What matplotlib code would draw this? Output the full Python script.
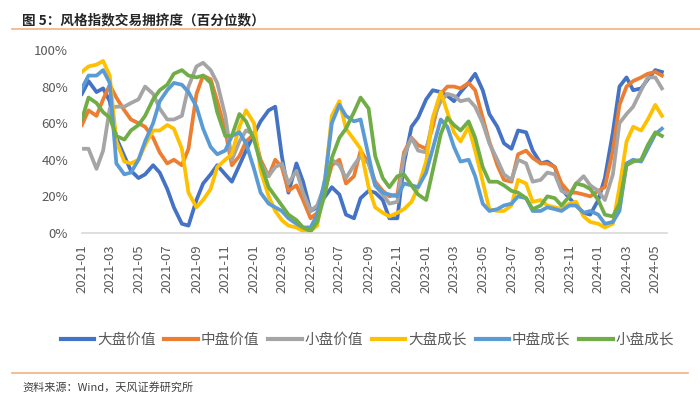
import numpy as np
import pandas as pd
import matplotlib
matplotlib.use("Agg")
import matplotlib.pyplot as plt
import matplotlib.dates as mdates
from matplotlib.lines import Line2D
from matplotlib.ticker import PercentFormatter

plt.rcParams['font.family'] = ['Noto Sans CJK SC', 'DejaVu Sans']

# semi-monthly readings, 2021-01 .. 2024-05 (percentile, %)
dates = pd.date_range('2021-01-01', '2024-05-15', freq='SMS')

large_value = [76, 83, 77, 79, 72, 52, 42, 34, 30, 32, 37, 33, 24, 14, 5, 4, 18, 27, 32, 37, 32, 28,
               37, 45, 54, 61, 67, 69, 42, 22, 38, 28, 12, 14, 20, 25, 21, 10, 8, 19, 23, 22,
               18, 8, 8, 38, 58, 63, 73, 78, 77, 75, 72, 77, 82, 87, 78, 65, 58, 49, 46,
               56, 55, 45, 38, 39, 36, 24, 19, 15, 11, 10, 18, 30, 55, 80, 85, 78, 79, 84, 89, 88]
mid_value = [59, 67, 64, 73, 81, 74, 67, 62, 60, 58, 52, 44, 38, 40, 37, 46, 76, 86, 84, 72, 56, 37,
             42, 50, 54, 40, 31, 40, 36, 23, 26, 18, 8, 11, 24, 37, 40, 27, 31, 45, 38, 28,
             23, 20, 21, 44, 52, 48, 46, 58, 76, 80, 80, 79, 82, 78, 63, 50, 37, 29, 28,
             43, 45, 41, 38, 38, 36, 27, 22, 22, 21, 20, 23, 25, 45, 70, 80, 83, 85, 87, 88, 86]
small_value = [46, 46, 35, 45, 68, 69, 69, 71, 73, 80, 76, 68, 62, 62, 64, 80, 91, 93, 89, 82, 64, 40,
               50, 56, 54, 38, 31, 36, 38, 27, 34, 22, 12, 15, 27, 40, 37, 30, 37, 42, 38, 26,
               21, 16, 17, 42, 52, 45, 44, 62, 72, 76, 75, 72, 73, 69, 60, 49, 40, 32, 29,
               40, 38, 28, 29, 33, 32, 23, 21, 27, 31, 26, 23, 18, 32, 60, 65, 69, 78, 85, 85, 79]
large_growth = [88, 91, 92, 94, 86, 50, 39, 38, 40, 48, 56, 56, 59, 57, 46, 22, 14, 18, 24, 36, 40, 43,
                58, 67, 60, 34, 20, 12, 7, 4, 3, 1, 1, 4, 30, 64, 72, 57, 51, 46, 25, 14,
                11, 9, 11, 13, 17, 25, 39, 63, 77, 66, 55, 50, 58, 45, 28, 13, 12, 12, 15,
                29, 27, 17, 18, 15, 14, 13, 16, 17, 9, 6, 5, 3, 5, 25, 50, 58, 56, 62, 70, 64]
mid_growth = [79, 86, 86, 89, 82, 38, 32, 33, 40, 50, 60, 72, 78, 82, 81, 77, 69, 57, 47, 43, 45, 53,
              55, 49, 35, 22, 16, 14, 12, 8, 5, 3, 3, 10, 30, 60, 70, 64, 61, 62, 42, 26,
              22, 21, 20, 27, 26, 25, 33, 46, 62, 58, 47, 39, 40, 31, 16, 12, 13, 15, 16,
              20, 19, 12, 12, 14, 13, 12, 15, 15, 11, 12, 10, 5, 6, 12, 38, 40, 39, 46, 54, 57]
small_growth = [62, 74, 71, 66, 63, 53, 51, 56, 59, 64, 73, 78, 81, 87, 89, 86, 85, 86, 82, 66, 53, 53,
                65, 61, 51, 38, 25, 20, 15, 10, 7, 3, 1, 6, 22, 41, 52, 57, 66, 74, 68, 42,
                30, 25, 31, 32, 26, 21, 18, 34, 54, 63, 59, 56, 61, 52, 36, 28, 28, 26, 23,
                22, 19, 13, 15, 20, 19, 15, 20, 27, 26, 24, 18, 10, 9, 16, 37, 39, 40, 48, 55, 53]

names = ['大盘价值', '中盘价值', '小盘价值', '大盘成长', '中盘成长', '小盘成长']
series = [large_value, mid_value, small_value, large_growth, mid_growth, small_growth]
colors = ['#4472C4', '#ED7D31', '#A5A5A5', '#FFC000', '#5B9BD5', '#70AD47']

fig = plt.figure(figsize=(7, 4.13), dpi=100)
ax = fig.add_axes([0.117, 0.436, 0.836, 0.443])

for vals, name, c in zip(series, names, colors):
    ax.plot(dates, np.array(vals) / 100, color=c, lw=2.7, label=name, solid_joinstyle='round')

ax.set_ylim(0, 1)
ax.set_xlim(dates[0], pd.Timestamp('2024-05-26'))
ax.set_yticks(np.arange(0, 1.01, 0.2))
ax.yaxis.set_major_formatter(PercentFormatter(1.0, decimals=0))
ax.xaxis.set_major_locator(mdates.MonthLocator(bymonth=[1, 3, 5, 7, 9, 11]))
ax.xaxis.set_major_formatter(mdates.DateFormatter('%Y-%m'))
ax.tick_params(axis='x', length=0, pad=8, labelsize=9.5, labelcolor='#595959', labelrotation=90)
ax.tick_params(axis='y', length=0, pad=10, labelsize=9.5, labelcolor='#595959')
for s in ['top', 'right', 'left']:
    ax.spines[s].set_visible(False)
ax.spines['bottom'].set_color('#D9D9D9')
ax.spines['bottom'].set_linewidth(1.2)

leg = fig.legend(loc='center', bbox_to_anchor=(0.525, 0.177), ncol=6, frameon=False,
                 fontsize=10.5, handlelength=2.3, handletextpad=0.2, columnspacing=0.6)
for t in leg.get_texts():
    t.set_color('#595959')
for h in leg.get_lines():
    h.set_linewidth(3)

fig.text(22 / 700, 1 - 20 / 413, '图 5：风格指数交易拥挤度（百分位数）', fontsize=9.8,
         fontweight='bold', va='center', ha='left', color='#262626')
fig.add_artist(Line2D([12 / 700, 1.0], [1 - 29 / 413] * 2, color='#F4B183', lw=1.2))
fig.add_artist(Line2D([12 / 700, 688 / 700], [1 - 373 / 413] * 2, color='#F4B183', lw=1.2))
fig.text(22 / 700, 1 - 387 / 413, '资料来源：Wind，天风证券研究所', fontsize=8,
         va='center', ha='left', color='#404040')

fig.savefig('out.png', dpi=100)
